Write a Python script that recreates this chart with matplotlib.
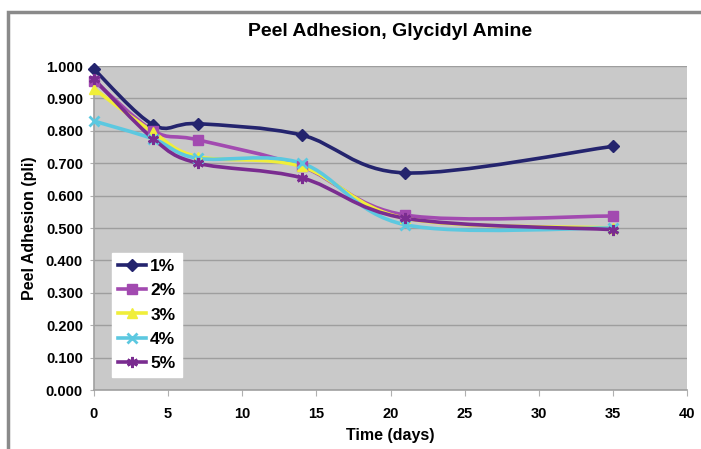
import matplotlib
matplotlib.use("Agg")
import matplotlib.pyplot as plt
from matplotlib.path import Path
from matplotlib.patches import PathPatch, Rectangle
from matplotlib.lines import Line2D
from matplotlib import font_manager
import numpy as np

# --- data ---------------------------------------------------------------
days = [0, 4, 7, 14, 21, 35]
pct1 = [0.990, 0.818, 0.822, 0.787, 0.670, 0.752]
pct2 = [0.955, 0.800, 0.772, 0.690, 0.540, 0.537]
pct3 = [0.930, 0.795, 0.720, 0.690, 0.530, 0.500]
pct4 = [0.830, 0.775, 0.715, 0.700, 0.510, 0.500]
pct5 = [0.960, 0.775, 0.700, 0.655, 0.530, 0.495]
series_names = ["1%", "2%", "3%", "4%", "5%"]
yticks = [0.0, 0.1, 0.2, 0.3, 0.4, 0.5, 0.6, 0.7, 0.8, 0.9, 1.0]
xticks = [0, 5, 10, 15, 20, 25, 30, 35, 40]

colors = ["#24246e", "#a24ab0", "#f0ee3a", "#5cc8e0", "#7a2c90"]
markers = ["D", "s", "^", "x", (6, 2, 0)]
msizes = [6, 6.5, 7, 7, 8]

available = {f.name for f in font_manager.fontManager.ttflist}
fam = [f for f in ["Liberation Sans Narrow", "Liberation Sans", "DejaVu Sans"] if f in available]
plt.rcParams["font.family"] = fam
plt.rcParams["font.weight"] = "bold"

W, H = 701, 449
fig = plt.figure(figsize=(W / 100, H / 100), dpi=100)
fig.patch.set_facecolor("white")

# outer chart border (continues past right and bottom edge)
fig.add_artist(Rectangle((8 / W, -0.05), 1.2, (H - 12) / H + 0.05,
                         transform=fig.transFigure, fill=False,
                         edgecolor="#8a8a8a", linewidth=2.5))

left, right, top, bottom = 94, 687, 66, 390
ax = fig.add_axes([left / W, 1 - bottom / H, (right - left) / W, (bottom - top) / H])
ax.set_facecolor("#c9c9c9")
ax.set_xlim(0, 40)
ax.set_ylim(0, 1.0)
ax.set_xticks(xticks)
ax.set_yticks(yticks)
ax.set_xticklabels([str(t) for t in xticks], fontsize=10.5, fontweight="bold")
ax.set_yticklabels([f"{t:.3f}" for t in yticks], fontsize=10.5, fontweight="bold")
ax.yaxis.grid(True, color="#9e9e9e", linewidth=1.0)
ax.set_axisbelow(True)
for s in ["top", "right"]:
    ax.spines[s].set_visible(False)
for s in ["left", "bottom"]:
    ax.spines[s].set_color("#a0a0a0")
    ax.spines[s].set_linewidth(1.2)
ax.tick_params(axis="x", length=4, color="#b0b0b0", pad=8)
ax.tick_params(axis="y", length=3, color="#b0b0b0", pad=5)

ax.set_xlabel("Time (days)", fontsize=11.5, fontweight="bold", labelpad=5)
ax.set_ylabel("Peel Adhesion (pli)", fontsize=11.5, fontweight="bold", labelpad=6)
fig.text(390 / W, 1 - 32 / H, "Peel Adhesion, Glycidyl Amine", ha="center", va="center",
         fontsize=14, fontweight="bold")


def smooth_path(x, y):
    """Bezier path through points, with Catmull-Rom style control points."""
    pts = np.column_stack([x, y]).astype(float)
    n = len(pts)
    verts = [pts[0]]
    codes = [Path.MOVETO]
    for i in range(n - 1):
        p0 = pts[i - 1] if i > 0 else pts[i]
        p1 = pts[i]
        p2 = pts[i + 1]
        p3 = pts[i + 2] if i + 2 < n else pts[i + 1]
        c1 = p1 + (p2 - p0) / 6.0
        c2 = p2 - (p3 - p1) / 6.0
        verts += [c1, c2, p2]
        codes += [Path.CURVE4] * 3
    return Path(verts, codes)


all_series = [pct1, pct2, pct3, pct4, pct5]
handles = []
for vals, c, m, ms, name in zip(all_series, colors, markers, msizes, series_names):
    patch = PathPatch(smooth_path(days, vals), facecolor="none", edgecolor=c,
                      linewidth=2.6, capstyle="round", joinstyle="round")
    ax.add_patch(patch)
    mew = 2.0 if m in ("x",) or isinstance(m, tuple) else 1.0
    ax.plot(days, vals, linestyle="none", marker=m, markersize=ms, color=c,
            markeredgecolor=c, markeredgewidth=mew, clip_on=False, zorder=3)
    handles.append(Line2D([], [], color=c, linewidth=2.6, marker=m, markersize=ms,
                          markeredgewidth=mew, label=name))

leg = ax.legend(handles=handles, loc="lower left",
                bbox_to_anchor=((112 - left) / (right - left), (bottom - 377) / (bottom - top)),
                frameon=True, fancybox=False, framealpha=1.0, edgecolor="white",
                facecolor="white", prop={"weight": "bold", "size": 12.5},
                handlelength=1.6, handletextpad=0.25, labelspacing=0.52,
                borderpad=0.35, borderaxespad=0)

fig.savefig("out.png", dpi=100)
